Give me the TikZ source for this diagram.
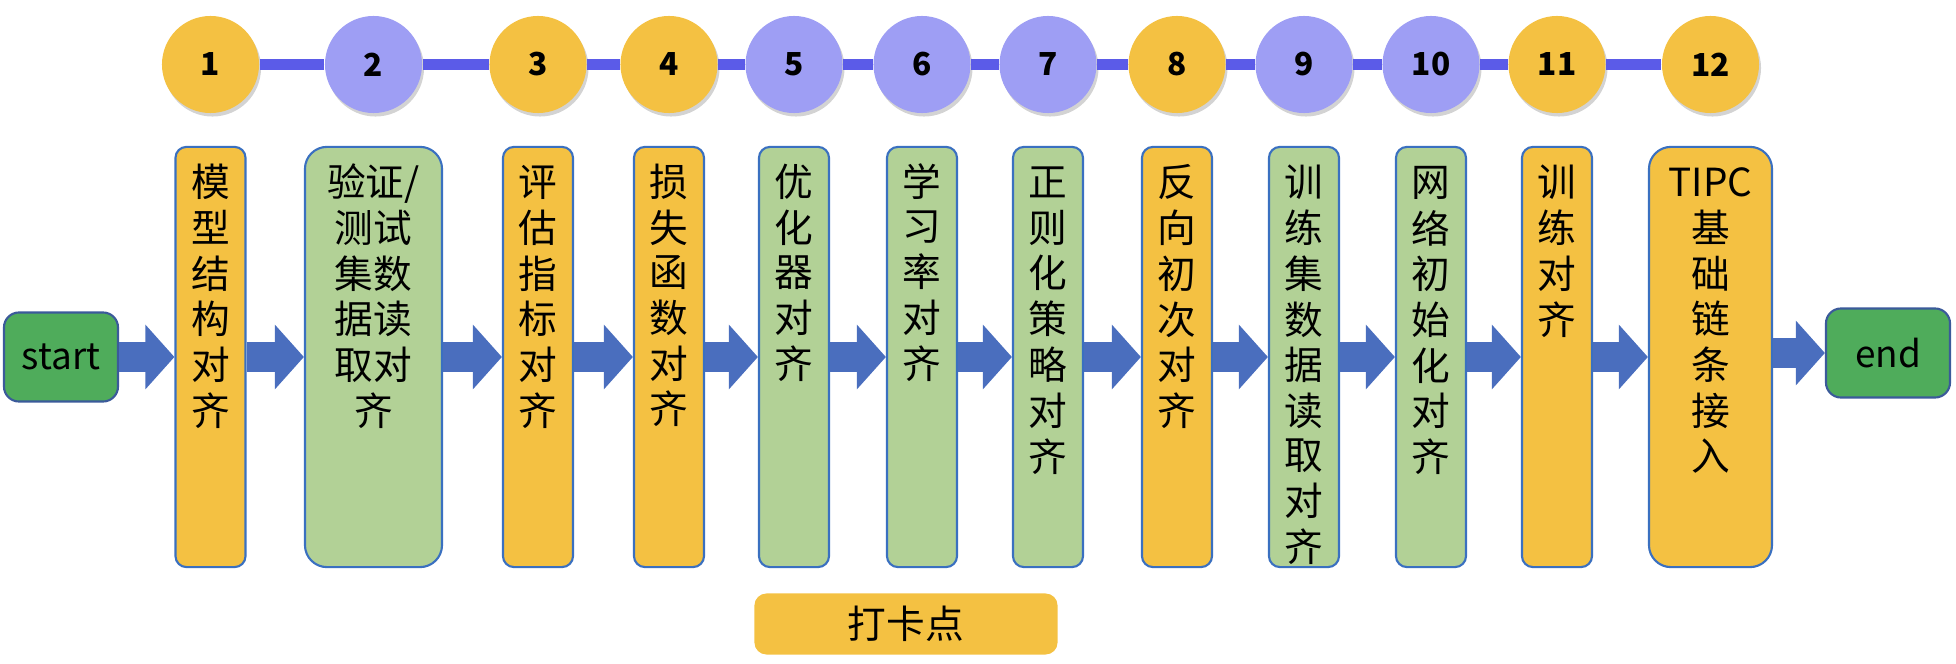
\documentclass[tikz,border=0pt]{standalone}
\usepackage{fontspec}
\setmainfont{Noto Sans CJK SC}
\usepackage{xcolor}
\usepackage{tikz}
\usetikzlibrary{arrows.meta,shadows}
\definecolor{stageorange}{HTML}{F4C142}
\definecolor{stagegreen}{HTML}{B2D196}
\definecolor{ptviolet}{HTML}{9E9EF4}
\definecolor{linkviolet}{HTML}{5B5BE8}
\definecolor{edgeblue}{HTML}{3A70C0}
\definecolor{flowblue}{HTML}{4A6EBE}
\definecolor{termgreen}{HTML}{4FAC5B}
\definecolor{termedge}{HTML}{3B5A9A}
\newcommand{\colstack}[1]{\begin{tabular}[t]{@{}c@{}}#1\end{tabular}}

\begin{document}
\begin{tikzpicture}[x=0.01cm, y=-0.01cm, every node/.style={align=center}]
\tikzset{
  pt/.style={circle, minimum size=0.97cm, inner sep=0pt, font=\bfseries\fontsize{9}{9}\selectfont,
    drop shadow={shadow xshift=0.02cm, shadow yshift=-0.035cm, opacity=0.35}},
  ptorange/.style={pt, fill=stageorange},
  ptpurple/.style={pt, fill=ptviolet},
  stage/.style={draw=edgeblue, line width=0.6pt, rounded corners=0.11cm, inner sep=0pt,
    text height=0.50cm, text depth=3.70cm, minimum width=0.70cm, font=\fontsize{11}{12.5}\selectfont},
  ostage/.style={stage, fill=stageorange},
  gstage/.style={stage, fill=stagegreen},
  terminal/.style={draw=termedge, line width=0.6pt, fill=termgreen, rounded corners=0.15cm,
    minimum height=0.89cm, font=\fontsize{10.5}{12}\selectfont},
  flowarrow/.style={draw=flowblue, line width=0.30cm, -{Triangle[width=0.63cm, length=0.29cm]}},
  link/.style={draw=linkviolet, line width=0.11cm}
}
\useasboundingbox (0,0) rectangle (1956,664);
\node[ptorange] (n1) at (210.5,64.5) {1};
\node[ptpurple] (n2) at (373.5,64.5) {2};
\node[ptorange] (n3) at (538,64.5) {3};
\node[ptorange] (n4) at (669,64.5) {4};
\node[ptpurple] (n5) at (794,64.5) {5};
\node[ptpurple] (n6) at (922,64.5) {6};
\node[ptpurple] (n7) at (1048,64.5) {7};
\node[ptorange] (n8) at (1177,64.5) {8};
\node[ptpurple] (n9) at (1304,64.5) {9};
\node[ptpurple] (n10) at (1431,64.5) {10};
\node[ptorange] (n11) at (1557,64.5) {11};
\node[ptorange] (n12) at (1710.5,64.5) {12};
\foreach \a/\b in {n1/n2,n2/n3,n3/n4,n4/n5,n5/n6,n6/n7,n7/n8,n8/n9,n9/n10,n10/n11,n11/n12}
  \draw[link] (\a) -- (\b);
\node[terminal, minimum width=1.14cm] (start) at (61,357) {start};
\node[ostage] (b1) at (210.5,357) {\colstack{模\\型\\结\\构\\对\\齐}};
\node[gstage, minimum width=1.37cm, rounded corners=0.22cm] (b2) at (373.5,357) {\colstack{验证/\\测试\\集数\\据读\\取对\\齐}};
\node[ostage] (b3) at (538,357) {\colstack{评\\估\\指\\标\\对\\齐}};
\node[ostage] (b4) at (669,357) {\colstack{损\\失\\函\\数\\对\\齐}};
\node[gstage] (b5) at (794,357) {\colstack{优\\化\\器\\对\\齐}};
\node[gstage] (b6) at (922,357) {\colstack{学\\习\\率\\对\\齐}};
\node[gstage] (b7) at (1048,357) {\colstack{正\\则\\化\\策\\略\\对\\齐}};
\node[ostage] (b8) at (1177,357) {\colstack{反\\向\\初\\次\\对\\齐}};
\node[gstage] (b9) at (1304,357) {\colstack{训\\练\\集\\数\\据\\读\\取\\对\\齐}};
\node[gstage] (b10) at (1431,357) {\colstack{网\\络\\初\\始\\化\\对\\齐}};
\node[ostage] (b11) at (1557,357) {\colstack{训\\练\\对\\齐}};
\node[ostage, minimum width=1.23cm, rounded corners=0.22cm] (b12) at (1710.5,357) {\colstack{TIPC\\基\\础\\链\\条\\接\\入}};
\node[terminal, minimum width=1.24cm] (end) at (1888,353) {end};
\foreach \a/\b in {start/b1,b1/b2,b2/b3,b3/b4,b4/b5,b5/b6,b6/b7,b7/b8,b8/b9,b9/b10,b10/b11,b11/b12}
  \draw[flowarrow] (\a.east) -- (\b.west);
\draw[flowarrow] (b12.east |- end.west) -- (end.west);
\node[fill=stageorange, rounded corners=0.12cm, minimum width=3.03cm, minimum height=0.61cm,
  font=\fontsize{11}{13}\selectfont] (legend) at (906,624) {打卡点};
\end{tikzpicture}
\end{document}
